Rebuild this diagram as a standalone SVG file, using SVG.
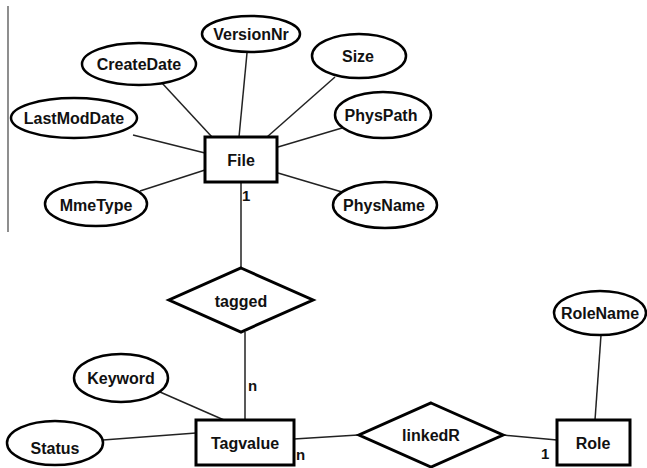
<svg xmlns="http://www.w3.org/2000/svg" width="647" height="468" viewBox="0 0 647 468">
<style>
.attr{fill:#fff;stroke:#000;stroke-width:2.5}
.ent{fill:#fff;stroke:#000;stroke-width:3}
.rel{fill:#fff;stroke:#000;stroke-width:3;stroke-linejoin:miter}
.ln{stroke:#222;stroke-width:1.5;fill:none}
text{font-family:"Liberation Sans",Arial,sans-serif;font-weight:bold;font-size:16px;fill:#111;text-anchor:middle;dominant-baseline:central}
.card{font-size:15px;text-anchor:start}
</style>
<rect width="647" height="468" fill="#fff"/>
<line x1="8" y1="6" x2="8" y2="232" stroke="#444" stroke-width="1.2"/>
<g id="connectors">
<line class="ln" x1="247" y1="53" x2="239" y2="137"/>
<line class="ln" x1="162" y1="83" x2="212" y2="137"/>
<line class="ln" x1="133" y1="135" x2="205" y2="153"/>
<line class="ln" x1="140" y1="191" x2="205" y2="170"/>
<line class="ln" x1="335" y1="77" x2="267" y2="137"/>
<line class="ln" x1="342" y1="128" x2="278" y2="147"/>
<line class="ln" x1="342" y1="192" x2="278" y2="173"/>
<line class="ln" x1="241" y1="182" x2="241" y2="268"/>
<line class="ln" x1="245" y1="332" x2="245" y2="420"/>
<line class="ln" x1="160" y1="392" x2="224" y2="420"/>
<line class="ln" x1="103" y1="440" x2="196" y2="433"/>
<line class="ln" x1="294" y1="439" x2="358" y2="435"/>
<line class="ln" x1="503" y1="435" x2="557" y2="440"/>
<line class="ln" x1="601" y1="335" x2="595" y2="420"/>
<text class="card" x="242" y="195">1</text>
<text class="card" x="248" y="385">n</text>
<text class="card" x="296" y="454">n</text>
<text class="card" x="541" y="453">1</text>
</g>
<g id="File"><rect class="ent" x="205" y="137" width="72" height="45"/><text x="241" y="160">File</text></g>
<g id="VersionNr"><ellipse class="attr" cx="251" cy="34" rx="49" ry="18"/><text x="251" y="34">VersionNr</text></g>
<g id="CreateDate"><ellipse class="attr" cx="139" cy="64" rx="57" ry="21"/><text x="139" y="64">CreateDate</text></g>
<g id="LastModDate"><ellipse class="attr" cx="74" cy="118" rx="63" ry="20"/><text x="74" y="118">LastModDate</text></g>
<g id="MmeType"><ellipse class="attr" cx="96" cy="204" rx="51" ry="22"/><text x="96" y="205">MmeType</text></g>
<g id="Size"><ellipse class="attr" cx="359" cy="56" rx="47" ry="22"/><text x="358" y="56">Size</text></g>
<g id="PhysPath"><ellipse class="attr" cx="383" cy="115" rx="48" ry="23"/><text x="381" y="115">PhysPath</text></g>
<g id="PhysName"><ellipse class="attr" cx="385" cy="205" rx="52" ry="23"/><text x="384" y="205">PhysName</text></g>
<g id="tagged"><polygon class="rel" points="241,268 313,300 241,332 169,300"/><text x="241" y="301">tagged</text></g>
<g id="Tagvalue"><rect class="ent" x="196" y="420" width="98" height="45"/><text x="245" y="443">Tagvalue</text></g>
<g id="Keyword"><ellipse class="attr" cx="121" cy="378" rx="47" ry="24"/><text x="121" y="378">Keyword</text></g>
<g id="Status"><ellipse class="attr" cx="55" cy="443" rx="48" ry="22"/><text x="55" y="448">Status</text></g>
<g id="linkedR"><polygon class="rel" points="431,403 503,435 431,467 359,435"/><text x="431" y="435">linkedR</text></g>
<g id="Role"><rect class="ent" x="557" y="420" width="73" height="45"/><text x="593" y="443">Role</text></g>
<g id="RoleName"><ellipse class="attr" cx="600" cy="313" rx="46" ry="22"/><text x="600" y="313">RoleName</text></g>
</svg>
